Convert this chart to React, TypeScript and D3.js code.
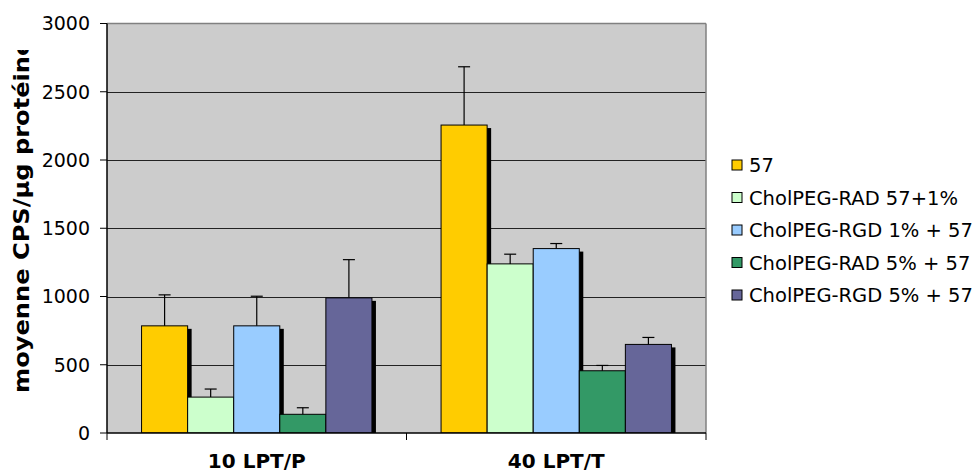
import React from "react";
import * as d3 from "d3";

const categories = ["10 LPT/P", "40 LPT/T"];
const seriesNames = [
  "57",
  "CholPEG-RAD 57+1%",
  "CholPEG-RGD 1% + 57",
  "CholPEG-RAD 5% + 57",
  "CholPEG-RGD 5% + 57",
];
const seriesColors = ["#FFCC00", "#CCFFCC", "#99CCFF", "#339966", "#666699"];
// values per series: [10 LPT/P, 40 LPT/T]
const values = [
  [785, 2256],
  [263, 1239],
  [785, 1351],
  [137, 456],
  [990, 649],
];
// upper end of error bars
const errorTops = [
  [1012, 2683],
  [322, 1310],
  [1002, 1388],
  [185, 495],
  [1270, 700],
];
const yTicks = [0, 500, 1000, 1500, 2000, 2500, 3000];
const yTitle = "moyenne CPS/µg protéine";

export default function App() {
  const W = 976;
  const H = 473;
  const left = 107;
  const right = 706;
  const top = 23.5;
  const bottom = 433;

  const x0 = d3.scaleBand<string>().domain(categories).range([left, right]);
  const x1 = d3
    .scaleBand<string>()
    .domain(seriesNames)
    .range([0, x0.bandwidth()])
    .paddingInner(0)
    .paddingOuter(0.75);
  const y = d3.scaleLinear().domain([0, 3000]).range([bottom, top]);

  const sans = "'DejaVu Sans', Verdana, sans-serif";
  const bold = "'DejaVu Sans', Verdana, sans-serif";

  return (
    <svg
      width={W}
      height={H}
      style={{ position: "absolute", left: 0, top: 0, background: "#fff" }}
    >
      <defs>
        <clipPath id="plotClip">
          <rect x={left} y={top} width={right - left} height={bottom - top} />
        </clipPath>
        <clipPath id="titleClip">
          <rect x={0} y={50} width={60} height={H - 50} />
        </clipPath>
      </defs>
      {/* plot background */}
      <rect x={left} y={top} width={right - left} height={bottom - top} fill="#CCCCCC" />
      {/* gridlines */}
      {yTicks
        .filter((t) => t > 0 && t < 3000)
        .map((t) => (
          <line key={t} x1={left} x2={right} y1={Math.round(y(t)) + 0.5} y2={Math.round(y(t)) + 0.5} stroke="#222" strokeWidth={1} />
        ))}
      {/* plot border top/right */}
      <line x1={left} x2={right} y1={top} y2={top} stroke="#808080" strokeWidth={1.5} />
      <line x1={right} x2={right} y1={top} y2={bottom} stroke="#808080" strokeWidth={1.5} />

      {/* bars with shadows */}
      <g clipPath="url(#plotClip)">
        {categories.map((c, ci) =>
          seriesNames.map((s, si) => {
            const bx = (x0(c) as number) + (x1(s) as number);
            const bw = x1.bandwidth();
            const by = y(values[si][ci]);
            return (
              <g key={c + s}>
                <rect x={bx + 4} y={by + 3} width={bw} height={bottom - by} fill="#000" />
                <rect x={bx} y={by} width={bw} height={bottom - by} fill={seriesColors[si]} stroke="#000" strokeWidth={1} />
              </g>
            );
          })
        )}
      </g>
      {/* error bars */}
      {categories.map((c, ci) =>
        seriesNames.map((s, si) => {
          const cx = (x0(c) as number) + (x1(s) as number) + x1.bandwidth() / 2;
          const y1 = y(values[si][ci]);
          const y2 = y(errorTops[si][ci]);
          return (
            <g key={"e" + c + s} stroke="#000" strokeWidth={1.2}>
              <line x1={cx} x2={cx} y1={y1} y2={y2} />
              <line x1={cx - 6} x2={cx + 6} y1={y2} y2={y2} />
            </g>
          );
        })
      )}

      {/* y axis */}
      <line x1={left} x2={left} y1={top} y2={bottom} stroke="#000" strokeWidth={1.5} />
      {yTicks.map((t) => (
        <g key={"t" + t}>
          <line x1={left - 7} x2={left} y1={y(t)} y2={y(t)} stroke="#000" strokeWidth={1} />
          <text x={90} y={y(t)} dy="0.36em" textAnchor="end" fontFamily={sans} fontSize={19} fill="#000">
            {t}
          </text>
        </g>
      ))}
      {/* x axis */}
      <line x1={left} x2={right} y1={bottom} y2={bottom} stroke="#000" strokeWidth={1.5} />
      {[left, ...categories.map((c) => (x0(c) as number) + x0.bandwidth())].map((xx, i) => (
        <line key={"xt" + i} x1={xx} x2={xx} y1={bottom} y2={bottom + 7} stroke="#000" strokeWidth={1} />
      ))}
      {categories.map((c) => (
        <text
          key={"xl" + c}
          x={(x0(c) as number) + x0.bandwidth() / 2}
          y={468}
          textAnchor="middle"
          fontFamily={bold}
          fontWeight="bold"
          fontSize={20}
          fill="#000"
        >
          {c}
        </text>
      ))}

      {/* y title */}
      <g clipPath="url(#titleClip)">
        <text
          transform={`translate(29,393) rotate(-90) scale(1.15,1)`}
          textAnchor="start"
          fontFamily={bold}
          fontWeight="bold"
          fontSize={21}
          fill="#000"
        >
          {yTitle}
        </text>
      </g>

      {/* legend */}
      {seriesNames.map((s, i) => {
        const cy = 165 + i * 32.5;
        return (
          <g key={"lg" + s}>
            <rect x={732} y={cy - 5} width={10} height={10} fill={seriesColors[i]} stroke="#000" strokeWidth={1} />
            <text x={749} y={cy} dy="0.36em" fontFamily={sans} fontSize={19.5} fill="#000">
              {s}
            </text>
          </g>
        );
      })}
    </svg>
  );
}
